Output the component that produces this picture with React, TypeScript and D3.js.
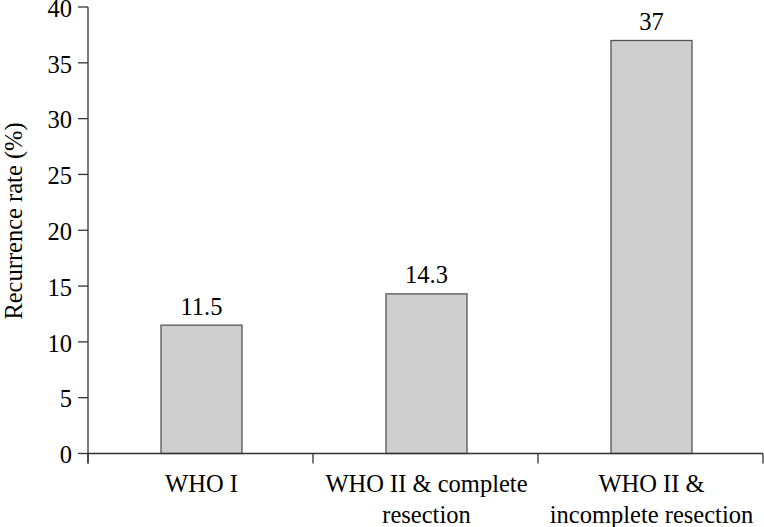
import React from "react";
import * as d3 from "d3";

const categories: string[][] = [
  ["WHO I"],
  ["WHO II & complete", "resection"],
  ["WHO II &", "incomplete resection"],
];
const values: number[] = [11.5, 14.3, 37];
const valueLabels: string[] = ["11.5", "14.3", "37"];
const yTicks: number[] = [0, 5, 10, 15, 20, 25, 30, 35, 40];
const yTitle = "Recurrence rate (%)";

const W = 764;
const H = 527;
const left = 88;
const right = 763;
const top = 7;
const bottom = 453.5;
const fs = 24.5;

export default function App() {
  const idx = categories.map((_, i) => String(i));
  const x = d3.scaleBand<string>().domain(idx).range([left, right]).paddingInner(0).paddingOuter(0);
  const y = d3.scaleLinear().domain([0, 40]).range([bottom, top]);
  const bw = x.bandwidth() * 0.36;
  const edges = [left, ...idx.map((k) => (x(k) as number) + x.bandwidth())];
  const textStyle = { fontFamily: "Liberation Serif", fontSize: fs };
  return (
    <svg
      width={W}
      height={H}
      style={{ position: "absolute", left: 0, top: 0, background: "#fff" }}
    >
      {values.map((v, i) => {
        const cx = (x(String(i)) as number) + x.bandwidth() / 2 + 1;
        return (
          <g key={i}>
            <rect
              x={cx - bw / 2}
              y={y(v)}
              width={bw}
              height={bottom - y(v)}
              fill="#cfcfcf"
              stroke="#555"
              strokeWidth={1.3}
            />
            <text x={cx} y={y(v) - 10.5} textAnchor="middle" style={textStyle} fill="#000">
              {valueLabels[i]}
            </text>
          </g>
        );
      })}
      <line x1={left} x2={left} y1={top} y2={bottom + 10} stroke="#333" strokeWidth={1.3} />
      <line x1={left} x2={right} y1={bottom} y2={bottom} stroke="#333" strokeWidth={1.3} />
      {yTicks.map((t) => (
        <g key={t}>
          <line x1={left - 10} x2={left} y1={y(t)} y2={y(t)} stroke="#333" strokeWidth={1.3} />
          <text x={left - 16} y={y(t)} dy="0.4em" textAnchor="end" style={textStyle} fill="#000">
            {t}
          </text>
        </g>
      ))}
      {edges.map((e, i) => (
        <line key={i} x1={e} x2={e} y1={bottom} y2={bottom + 10} stroke="#333" strokeWidth={1.3} />
      ))}
      {categories.map((lines, i) => {
        const cx = (x(String(i)) as number) + x.bandwidth() / 2 + 1;
        return (
          <text key={i} x={cx} y={492} textAnchor="middle" style={textStyle} fill="#000">
            {lines.map((l, j) => (
              <tspan key={j} x={cx} dy={j === 0 ? 0 : 31}>
                {l}
              </tspan>
            ))}
          </text>
        );
      })}
      <text
        transform={`translate(22, 221) rotate(-90)`}
        textAnchor="middle"
        style={textStyle}
        fill="#000"
      >
        {yTitle}
      </text>
    </svg>
  );
}
